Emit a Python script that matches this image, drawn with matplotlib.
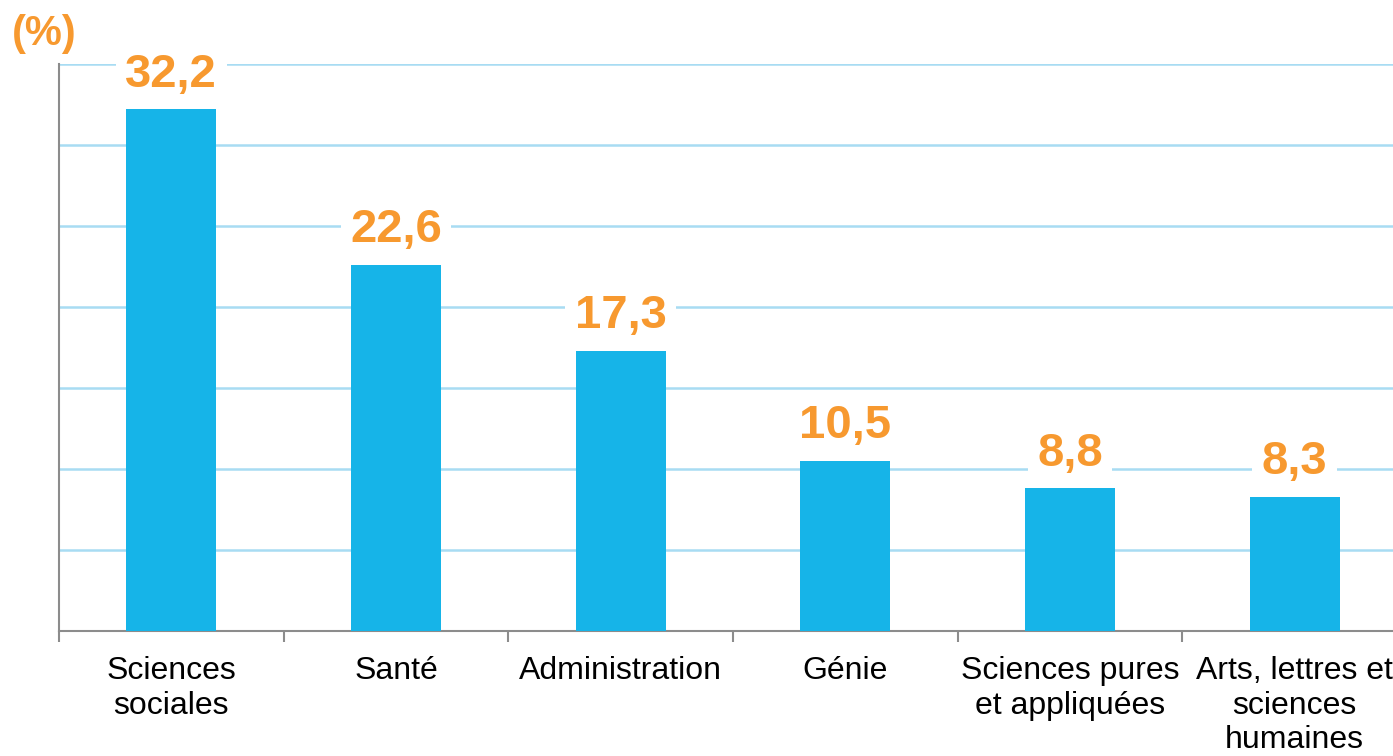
import numpy as np
import matplotlib.pyplot as plt

# Données
categories = ['Sciences\nsociales', 'Santé', 'Administration', 'Génie',
              'Sciences pures\net appliquées', 'Arts, lettres et\nsciences\nhumaines']
valeurs = [32.2, 22.6, 17.3, 10.5, 8.8, 8.3]
etiquettes = ['32,2', '22,6', '17,3', '10,5', '8,8', '8,3']

BLEU = '#16B4E8'
ORANGE = '#F7992F'
GRILLE = '#A8DCF3'
GRIS = '#8C8C8C'

plt.rcParams['font.family'] = ['Liberation Sans', 'DejaVu Sans']

fig = plt.figure(figsize=(13.93, 7.56), dpi=100)
ax = fig.add_axes([59 / 1393, 125 / 756, 1348 / 1393, 567 / 756])

x = np.arange(len(categories))
ax.bar(x, valeurs, width=0.4, color=BLEU, zorder=3)

for xi, v, txt in zip(x, valeurs, etiquettes):
    ax.annotate(txt, (xi, v), xytext=(0, 25), textcoords='offset points',
                ha='center', va='center', fontsize=34, fontweight='bold',
                color=ORANGE, zorder=4,
                bbox=dict(boxstyle='square,pad=0.2', fc='white', ec='none'))

ax.set_xlim(-0.5, len(categories) - 0.5)
ax.set_ylim(0, 35)
ax.set_yticks(np.arange(5, 36, 5))
ax.yaxis.grid(True, color=GRILLE, linewidth=1.8, zorder=0)
ax.tick_params(axis='y', length=0, labelleft=False)

# ticks aux frontières, étiquettes au centre
ax.set_xticks(np.arange(-0.5, len(categories), 1.0))
ax.set_xticklabels([])
ax.set_xticks(x, minor=True)
ax.set_xticklabels(categories, minor=True, fontsize=23, linespacing=1.2)
ax.tick_params(axis='x', which='major', length=8, width=1.5, color=GRIS, direction='out')
ax.tick_params(axis='x', which='minor', length=0, pad=18)

for s in ['top', 'right']:
    ax.spines[s].set_visible(False)
for s in ['left', 'bottom']:
    ax.spines[s].set_color(GRIS)
    ax.spines[s].set_linewidth(1.5)
ax.set_axisbelow(True)

fig.text(12 / 1393, 1 - 34 / 756, '(%)', fontsize=30, fontweight='bold',
         color=ORANGE, ha='left', va='center')

fig.savefig('out.png', dpi=100)
